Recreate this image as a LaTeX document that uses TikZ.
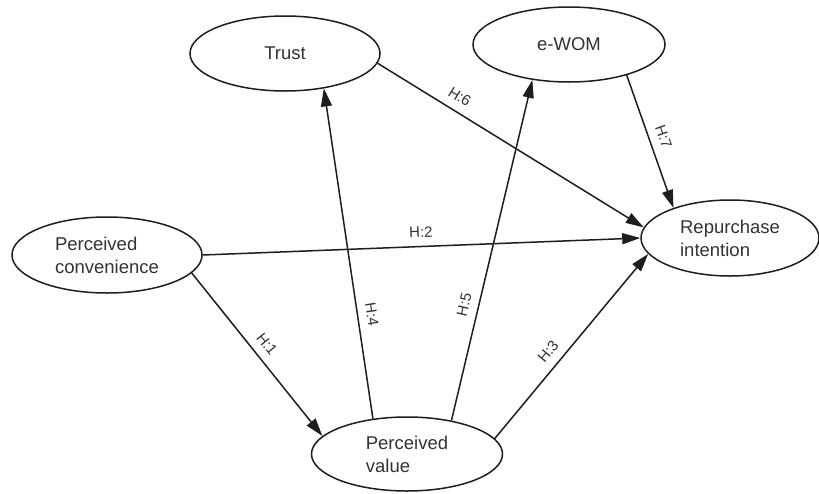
\documentclass[tikz,border=0pt]{standalone}
\usepackage{fontspec}
\setmainfont{Liberation Sans}
\usetikzlibrary{shapes.geometric,arrows.meta}
\definecolor{ink}{HTML}{1E1E1E}
\definecolor{txt}{HTML}{333333}
\tikzset{
  construct/.style={draw=ink, line width=1.5pt, ellipse, inner sep=0pt,
    font=\fontsize{18.5}{23}\selectfont, text=txt, align=left},
  arr/.style={draw=ink, line width=1.5pt, -{Triangle[length=18pt,width=11pt]}},
  lbl/.style={font=\fontsize{15}{17}\selectfont, text=txt, inner sep=8.5pt, sloped, above}
}
\begin{document}
\begin{tikzpicture}[x=1pt,y=-1pt]
\useasboundingbox (0,0) rectangle (819,493);
\fill[white] (0,0) rectangle (819,493);
\node[construct, minimum width=190pt, minimum height=75pt] (trust) at (285,53.5) {Trust};
\node[construct, minimum width=192pt, minimum height=75pt] (ewom) at (569,44.5) {e-WOM};
\node[construct, minimum width=178pt, minimum height=76pt] (rep) at (730,238) {Repurchase\\intention};
\node[construct, minimum width=190pt, minimum height=76pt] (conv) at (107,255) {Perceived\\convenience};
\node[construct, minimum width=191pt, minimum height=74pt] (val) at (407,454) {Perceived\\value};

\draw[arr] (conv.-12.8) -- (val.168.7) node[lbl, pos=0.49] {H:1};
\draw[arr] (conv.0) -- (rep.180) node[lbl, pos=0.5] {H:2};
\draw[arr] (val.10.9) -- (rep.191.7) node[lbl, pos=0.42] {H:3};
\draw[arr] (val.134.2) -- (trust.-42.6) node[lbl, pos=0.31] {H:4};
\draw[arr] (val.37.3) -- (ewom.-136.1) node[lbl, pos=0.33] {H:5};
\draw[arr] (trust.-6.1) -- (rep.173.5) node[lbl, pos=0.28] {H:6};
\draw[arr] (ewom.-28.5) -- (rep.152.2) node[lbl, pos=0.5] {H:7};
\end{tikzpicture}
\end{document}
